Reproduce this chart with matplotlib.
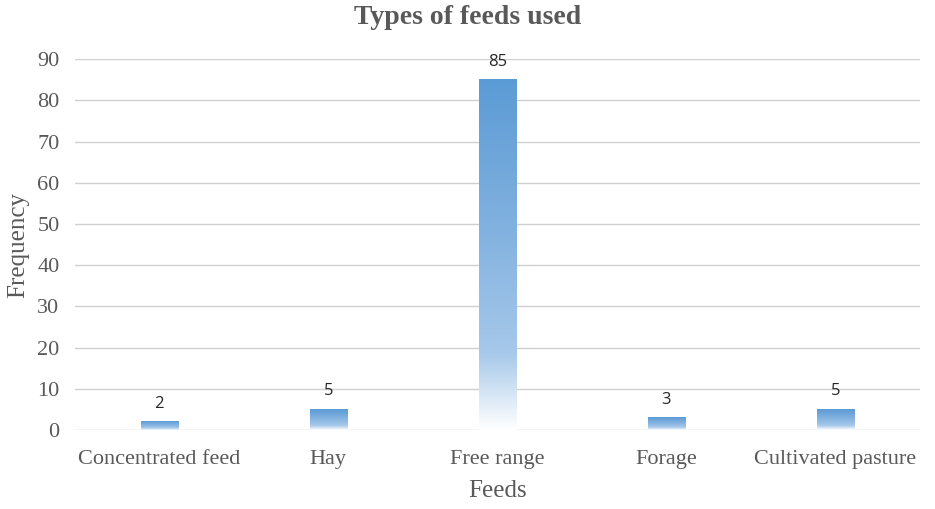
import numpy as np
import matplotlib.pyplot as plt
from matplotlib.colors import LinearSegmentedColormap

# Dados
feeds = ["Concentrated feed", "Hay", "Free range", "Forage", "Cultivated pasture"]
frequency = [2, 5, 85, 3, 5]
y_ticks = [0, 10, 20, 30, 40, 50, 60, 70, 80, 90]

BAR_WIDTH = 0.22
GRAY = "#595959"

# Gradiente (branco embaixo, azul em cima)
grad = LinearSegmentedColormap.from_list(
    "bar_grad",
    [(0.0, "#FFFFFF"), (0.22, "#A6C8EA"), (0.6, "#7FB0DF"), (1.0, "#5B9BD5")],
)

fig = plt.figure(figsize=(9.35, 5.09), dpi=100)
ax = fig.add_axes([0.080, 0.155, 0.904, 0.729])

x = np.arange(len(feeds))
bars = ax.bar(x, frequency, width=BAR_WIDTH, color="none", edgecolor="none", zorder=3)

gradient = np.linspace(0, 1, 256).reshape(-1, 1)
for b in bars:
    x0 = b.get_x()
    h = b.get_height()
    ax.imshow(gradient, cmap=grad, origin="lower", aspect="auto",
              extent=[x0, x0 + b.get_width(), 0, h], zorder=3,
              interpolation="bicubic")

for xi, v in zip(x, frequency):
    ax.annotate(str(v), (xi, v), xytext=(0, 13), textcoords="offset points",
                ha="center", va="center", fontsize=12, color="#262626",
                family="Open Sans", zorder=4)

ax.set_xlim(-0.5, len(feeds) - 0.5)
ax.set_ylim(0, 90)
ax.set_yticks(y_ticks)
ax.set_xticks(x)
ax.set_xticklabels(feeds)
ax.grid(axis="y", color="#D0D0D0", linewidth=1.0, zorder=0)
ax.set_axisbelow(True)
for s in ax.spines.values():
    s.set_visible(False)
ax.tick_params(length=0, labelsize=16, labelcolor=GRAY)
ax.tick_params(axis="x", pad=14)
ax.tick_params(axis="y", pad=11)
for lbl in ax.get_xticklabels() + ax.get_yticklabels():
    lbl.set_family("Liberation Serif")

ax.set_xlabel("Feeds", fontsize=18, color=GRAY, family="Liberation Serif", labelpad=8)
ax.set_ylabel("Frequency", fontsize=18, color=GRAY, family="Liberation Serif", labelpad=6)
fig.suptitle("Types of feeds used", y=0.99, fontsize=20, fontweight="bold",
             color=GRAY, family="Liberation Serif")

fig.savefig("out.png", dpi=100)
